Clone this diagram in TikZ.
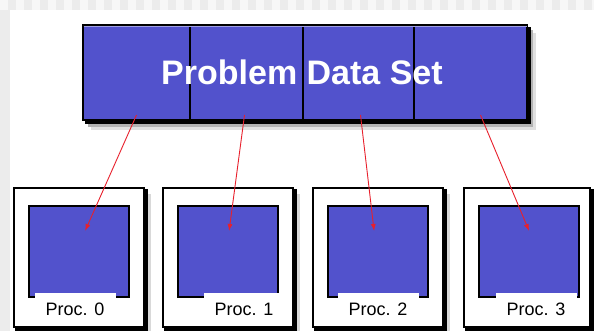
\documentclass[tikz,border=0pt]{standalone}
\usepackage{fontspec}
\setmainfont{Liberation Sans}
\usetikzlibrary{arrows,arrows.meta,calc,positioning,backgrounds}
\definecolor{procblue}{RGB}{82,82,204}
\definecolor{arrowred}{RGB}{232,32,44}
\definecolor{bggray}{RGB}{236,236,236}

\begin{document}
\begin{tikzpicture}[x=1pt,y=-1pt,
	cell/.style={anchor=north west,fill=procblue,draw=black,line width=2pt,minimum height=95pt,inner sep=0pt},
	title/.style={text=white,inner sep=0pt,font=\fontsize{34}{40}\selectfont\bfseries},
	frame/.style={anchor=north west,fill=white,draw=black,line width=2pt,minimum height=139pt,inner sep=0pt},
	square/.style={anchor=north west,fill=procblue,draw=black,line width=2.2pt,minimum width=100pt,minimum height=91pt,inner sep=0pt},
	tag/.style={fill=white,minimum width=81pt,minimum height=32pt,inner sep=0pt,font=\fontsize{18}{20}\selectfont},
	feed/.style={draw=arrowred,line width=0.9pt,-{Latex[length=7pt,width=5pt]}}]
	\useasboundingbox (0,0) rectangle (594,331);

	% data set bar
	\foreach \i/\x/\w in {0/82/107, 1/189/113, 2/302/111, 3/413/113}
		\node[cell,minimum width=\w] (cell\i) at (\x,24) {};
	\draw[procblue!55!white,line width=1.5pt] ($(cell0.north west)+(1.5,2.5)$) -- ($(cell3.north east)+(-1.5,2.5)$);
	\node[title] (ttl) at ($(cell0.west)!0.5!(cell3.east)+(-3,0)$) {Problem Data Set};

	% processors
	\foreach \i/\bx/\bw/\lx in {0/13/130/75, 1/162/130/244, 2/312/130/378, 3/463/126/536} {
		\node[frame,minimum width=\bw] (proc\i) at (\bx,187) {};
		\node[square] (sq\i) at (\bx+15,205) {};
		\node[tag] (lab\i) at (\lx,309) {Proc. \i};
	}

	% red arrows
	\foreach \i/\dx/\ex in {0/0/6, 1/-2/1, 2/2/-4, 3/10/0} {
		\coordinate (src\i) at ($(cell\i.south)+(\dx,-6)$);
		\coordinate (dst\i) at ($(sq\i.north)+(\ex,26)$);
		\draw[feed] (src\i) -- (dst\i);
	}

	\begin{scope}[on background layer]
		\fill[bggray] (0,0) rectangle (594,331);
		\foreach \k in {0,...,37}
			\fill[white!60!bggray] (16*\k,0) rectangle (16*\k+8,10);
		\fill[white] (10,10) rectangle (594,331);
		\fill[black!12] ($(cell0.north west)+(9,9)$) rectangle ($(cell3.south east)+(8,9)$);
		\fill[black!30] ($(cell0.north west)+(6,6)$) rectangle ($(cell3.south east)+(5,6)$);
		\fill[black] ($(cell0.north west)+(3,3)$) rectangle ($(cell3.south east)+(3,3)$);
		\foreach \i in {0,...,3} {
			\fill[black!15] ($(proc\i.north west)+(7,7)$) rectangle ($(proc\i.south east)+(6,6)$);
			\fill[black] ($(proc\i.north west)+(2,2)$) rectangle ($(proc\i.south east)+(2.5,2.5)$);
		}
	\end{scope}
\end{tikzpicture}
\end{document}
